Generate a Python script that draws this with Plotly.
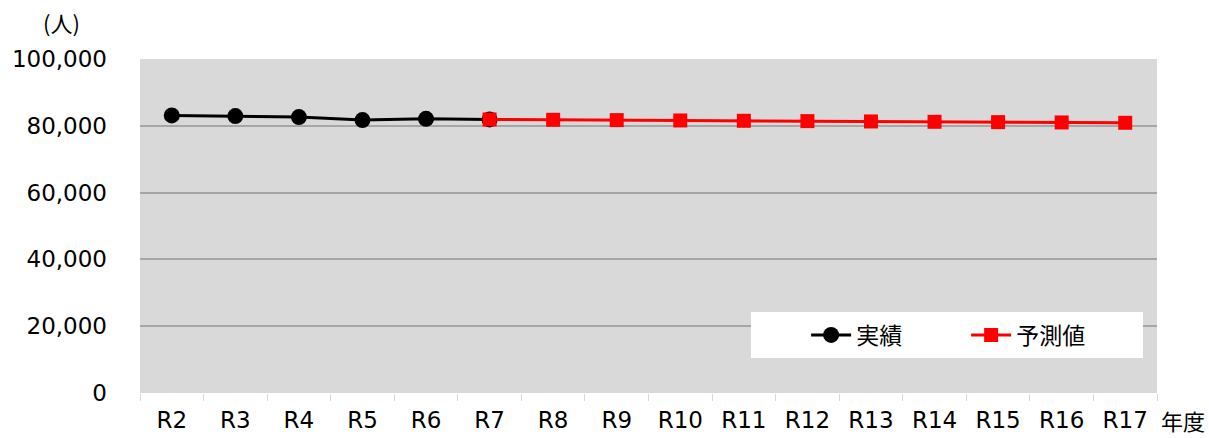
import plotly.graph_objects as go

# 年度ラベル
years = ["R2", "R3", "R4", "R5", "R6", "R7", "R8", "R9", "R10",
         "R11", "R12", "R13", "R14", "R15", "R16", "R17"]

# 実績（R2〜R7）
actual_years = ["R2", "R3", "R4", "R5", "R6", "R7"]
actual_values = [83100, 82900, 82600, 81700, 82100, 81900]

# 予測値（R7〜R17）
forecast_years = ["R7", "R8", "R9", "R10", "R11", "R12", "R13",
                  "R14", "R15", "R16", "R17"]
forecast_values = [81900, 81800, 81700, 81600, 81500, 81400, 81300,
                   81200, 81100, 81000, 80900]

y_ticks = [0, 20000, 40000, 60000, 80000, 100000]

LATIN = "DejaVu Sans, Noto Sans CJK JP"
CJK = "Noto Sans CJK JP, DejaVu Sans"

fig = go.Figure()

fig.add_trace(go.Scatter(
    x=actual_years, y=actual_values, name="実績",
    mode="lines+markers",
    line=dict(color="#000000", width=3),
    marker=dict(symbol="circle", size=16, color="#000000"),
))

fig.add_trace(go.Scatter(
    x=forecast_years, y=forecast_values, name="予測値",
    mode="lines+markers",
    line=dict(color="#ff0000", width=3),
    marker=dict(symbol="square", size=14, color="#ff0000"),
))

# 凡例の白い背景
fig.add_shape(
    type="rect", xref="paper", yref="paper",
    x0=0.6008, x1=0.9862, y0=0.1048, y1=0.2425,
    fillcolor="white", line=dict(width=0), layer="above",
)

fig.add_annotation(
    text="(人)", xref="paper", yref="paper", x=-0.077, y=1.11,
    xanchor="center", yanchor="middle", showarrow=False,
    font=dict(family=CJK, size=22, color="#000000"),
)
fig.add_annotation(
    text="年度", xref="paper", yref="paper", x=1.002, y=-0.08,
    xanchor="left", yanchor="middle", showarrow=False,
    font=dict(family=CJK, size=22, color="#000000"),
)

fig.update_layout(
    width=1209, height=438,
    margin=dict(l=140, r=52, t=59, b=45),
    paper_bgcolor="white",
    plot_bgcolor="#d9d9d9",
    showlegend=True,
    legend=dict(
        orientation="h",
        x=0.655, xanchor="left",
        y=0.1737, yanchor="middle",
        bgcolor="rgba(0,0,0,0)",
        font=dict(family=CJK, size=23, color="#000000"),
        entrywidth=105,
        itemwidth=40,
        traceorder="normal",
    ),
    xaxis=dict(
        type="category",
        categoryorder="array", categoryarray=years,
        tickson="boundaries",
        ticks="outside", ticklen=7, tickcolor="#d9d9d9", tickwidth=1,
        showgrid=False,
        showline=False,
        automargin=False,
        ticklabelstandoff=11,
        tickfont=dict(family=LATIN, size=23, color="#000000"),
        range=[-0.5, len(years) - 0.5],
    ),
    yaxis=dict(
        range=[0, 100000],
        tickvals=y_ticks,
        tickformat=",",
        showgrid=True, gridcolor="#a6a6a6", gridwidth=1.5,
        zeroline=False,
        showline=False,
        automargin=False,
        ticks="",
        ticklabelstandoff=32,
        tickfont=dict(family=LATIN, size=23, color="#000000"),
    ),
)

fig.write_html("out.html")
